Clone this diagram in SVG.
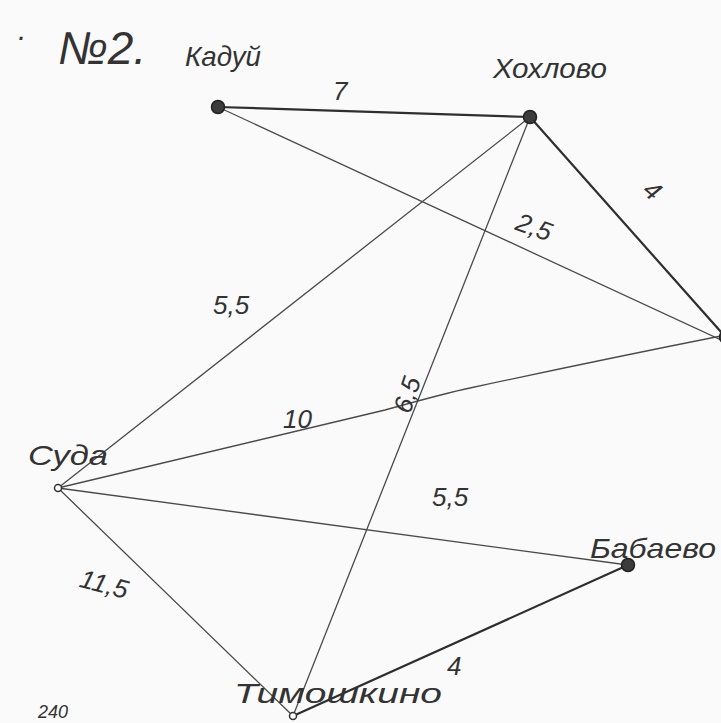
<svg xmlns="http://www.w3.org/2000/svg" width="721" height="723" viewBox="0 0 721 723">
<style>
.bg{fill:#fafafa}
.e{stroke:#4a4a4a;stroke-width:1.3;fill:none;stroke-linecap:round}
.et{stroke:#2e2e2e;stroke-width:2.2;fill:none;stroke-linecap:round}
.big{fill:#3c3c3c;stroke:#222;stroke-width:1.5}
.small{fill:#fff;stroke:#333;stroke-width:1.5}
text{font-family:"Liberation Sans","DejaVu Sans",sans-serif;font-style:italic;fill:#333}
.nm{font-size:28px}
.lb{font-size:26px}
</style>
<rect class="bg" width="721" height="723"/>
<g id="connectors">
<line class="et" x1="218" y1="107" x2="530" y2="117"/>
<line class="e" x1="218" y1="107" x2="721" y2="340"/>
<line class="et" x1="530" y1="117" x2="721" y2="332"/>
<line class="e" x1="530" y1="117" x2="58" y2="488"/>
<line class="e" x1="530" y1="117" x2="293" y2="716"/>
<path class="e" d="M58 488 L385 410 Q450 392 470 388 Q600 360 721 336"/>
<line class="e" x1="58" y1="488" x2="628" y2="565"/>
<line class="e" x1="58" y1="488" x2="293" y2="716"/>
<line class="et" x1="293" y1="716" x2="628" y2="565"/>
</g>
<g id="labels">
<text class="lb" x="333" y="100">7</text>
<text class="lb" x="516" y="238" transform="rotate(20 540 228)">2,5</text>
<text class="lb" x="645" y="202" transform="rotate(40 656 192)">4</text>
<text class="lb" x="213" y="314" font-size="30">5,5</text>
<text class="lb" x="392" y="406" transform="rotate(-72 407 398)">6,5</text>
<text class="lb" x="283" y="428">10</text>
<text class="lb" x="432" y="506">5,5</text>
<text class="lb" x="80" y="594" transform="rotate(15 108 584)">11,5</text>
<text class="lb" x="447" y="675">4</text>
</g>
<g id="title"><text x="16" y="46" font-size="30">·</text><text x="58" y="64" font-size="46">№2.</text></g>
<g id="n-kaduy"><circle class="big" cx="218" cy="107" r="6.5"/><text class="nm" x="185" y="66" textLength="76" lengthAdjust="spacingAndGlyphs">Кадуй</text></g>
<g id="n-khokhlovo"><circle class="big" cx="530" cy="117" r="6.5"/><text class="nm" x="493" y="78" textLength="114" lengthAdjust="spacingAndGlyphs">Хохлово</text></g>
<g id="n-right"><circle class="big" cx="726" cy="337" r="6.5"/></g>
<g id="n-suda"><circle class="small" cx="58" cy="488" r="3.5"/><text class="nm" x="28" y="465" font-size="32" textLength="80" lengthAdjust="spacingAndGlyphs">Суда</text></g>
<g id="n-babaevo"><circle class="big" cx="628" cy="565" r="6.5"/><text class="nm" x="590" y="558" textLength="126" lengthAdjust="spacingAndGlyphs">Бабаево</text></g>
<g id="n-timoshkino"><circle class="small" cx="293" cy="716" r="3.5"/><text class="nm" x="234" y="703" textLength="208" lengthAdjust="spacingAndGlyphs">Тимошкино</text></g>
<g id="page"><text x="38" y="718" font-size="18">240</text></g>
</svg>
